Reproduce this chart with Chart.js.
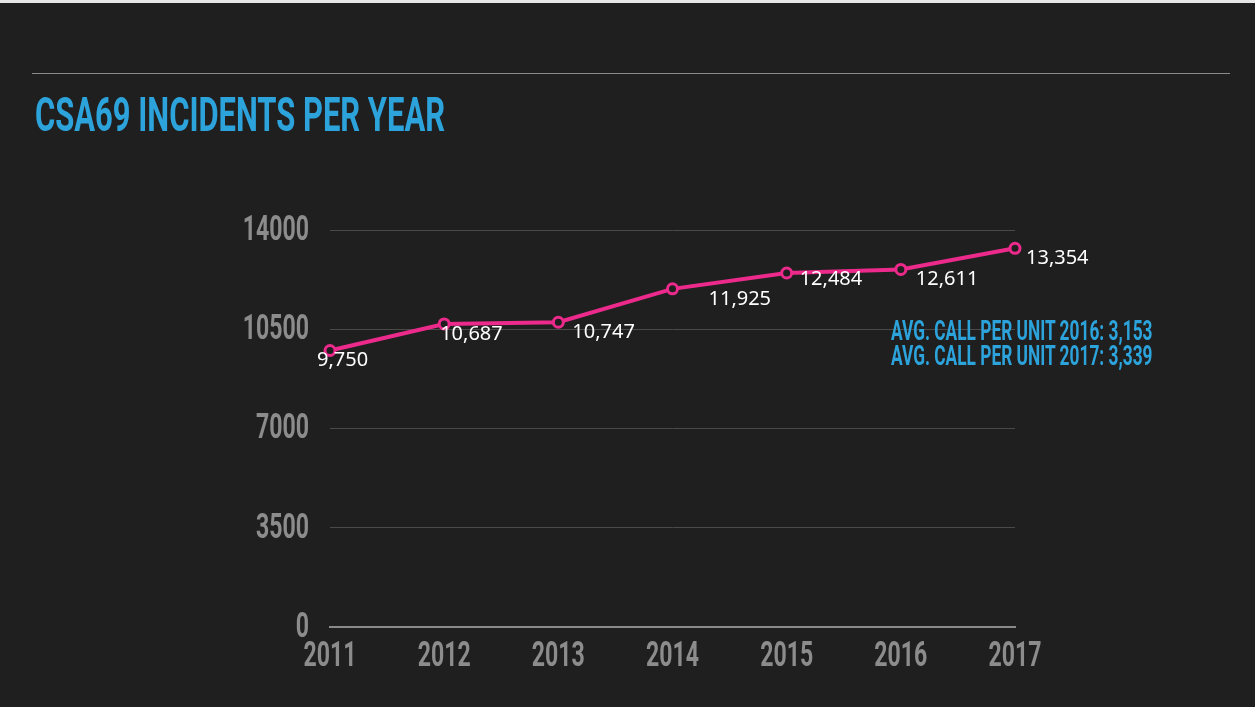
<!DOCTYPE html>
<html>
<head>
<meta charset="utf-8">
<script src="https://cdn.jsdelivr.net/npm/chart.js@4"></script>
<style>
  html, body { margin: 0; padding: 0; background: #1f1f1f; overflow: hidden; }
  body { width: 1255px; height: 707px; position: relative; }
  #topStrip { position: absolute; left: 0; top: 0; width: 1255px; height: 3px; background: #e6e6e6; }
  #rule { position: absolute; left: 32px; top: 73px; width: 1198px; height: 1px; background: #8a8a8a; }
  .cond { position: absolute; white-space: nowrap; font-family: Roboto, 'Liberation Sans', sans-serif; font-weight: 700;
          color: #2da3dc; transform-origin: 0 0; line-height: 1; }
  #title { left: 35px; top: 91px; font-size: 48px; }
  #wrap { position: absolute; left: 0; top: 0; width: 1255px; height: 707px; }
</style>
</head>
<body>
<div id="topStrip"></div>
<div id="rule"></div>
<div id="wrap"><canvas id="chart"></canvas></div>
<div id="title" class="cond">CSA69 INCIDENTS PER YEAR</div>
<div id="note1" class="cond"></div>
<div id="note2" class="cond"></div>
<script>
// Chart data
const years = ['2011', '2012', '2013', '2014', '2015', '2016', '2017'];
const incidents = [9750, 10687, 10747, 11925, 12484, 12611, 13354];
const yTicks = [0, 3500, 7000, 10500, 14000];
const notes = ['AVG. CALL PER UNIT 2016: 3,153', 'AVG. CALL PER UNIT 2017: 3,339'];

const PINK = '#ec2a8c';
const TICK_GREY = '#8c8c8c';
const COND_FONT = "700 35px Roboto, 'Liberation Sans', sans-serif";

// squeeze text horizontally so it fits a target width (mimics condensed face)
const measure = document.createElement('canvas').getContext('2d');
const fitWidth = (el, text, px, width) => {
    el.textContent = text;
    measure.font = `700 ${px}px Roboto, 'Liberation Sans', sans-serif`;
    const w = measure.measureText(text).width;
    el.style.fontSize = px + 'px';
    el.style.transform = `scaleX(${width / w})`;
};

// condensed tick labels + value labels
const labelPlugin = {
    id: 'labels',
    afterDatasetsDraw(chart, args, opts) {
        const { ctx, chartArea, scales } = chart;
        ctx.save();

        // y tick labels
        ctx.font = COND_FONT;
        ctx.fillStyle = TICK_GREY;
        ctx.textBaseline = 'middle';
        ctx.textAlign = 'right';
        scales.y.ticks.forEach(t => {
            const y = scales.y.getPixelForValue(t.value);
            ctx.save();
            ctx.translate(chartArea.left - 21, y + 1);
            ctx.scale(opts.squeeze, 1);
            ctx.fillText(String(t.value), 0, 0);
            ctx.restore();
        });

        // x tick labels
        ctx.textAlign = 'center';
        years.forEach((yr, i) => {
            const x = scales.x.getPixelForValue(i);
            ctx.save();
            ctx.translate(x, chartArea.bottom + 30);
            ctx.scale(opts.squeeze, 1);
            ctx.fillText(yr, 0, 0);
            ctx.restore();
        });

        // value labels
        ctx.font = "20px 'Noto Sans', 'Open Sans', sans-serif";
        ctx.fillStyle = '#ffffff';
        ctx.textAlign = 'left';
        const meta = chart.getDatasetMeta(0);
        meta.data.forEach((pt, i) => {
            const [dx, dy] = opts.offsets[i];
            ctx.fillText(incidents[i].toLocaleString('en-US'), pt.x + dx, pt.y + dy);
        });

        ctx.restore();
    }
};

new Chart(document.getElementById('chart'), {
    type: 'line',
    data: {
        labels: years,
        datasets: [{
            data: incidents,
            borderColor: PINK,
            borderWidth: 4,
            tension: 0,
            pointRadius: 5,
            pointBorderWidth: 3,
            pointBorderColor: PINK,
            pointBackgroundColor: '#1f1f1f',
            clip: false
        }]
    },
    options: {
        responsive: true,
        maintainAspectRatio: false,
        animation: false,
        layout: { padding: { left: 330, right: 240, top: 230, bottom: 80 } },
        plugins: {
            legend: { display: false },
            tooltip: { enabled: false },
            labels: {
                squeeze: 0.66,
                offsets: [[-13, 10], [-4, 10], [14, 10], [36, 10], [13, 6], [15, 10], [11, 10]]
            }
        },
        scales: {
            x: {
                offset: false,
                grid: { display: false, drawTicks: false },
                border: { display: true, color: '#8a8a8a', width: 2 },
                ticks: { display: false },
                afterFit: s => { s.height = 0; }
            },
            y: {
                min: 0,
                max: 14000,
                afterBuildTicks: s => { s.ticks = yTicks.map(v => ({ value: v })); },
                grid: {
                    drawTicks: false,
                    color: c => (c.tick && c.tick.value === 0) ? 'rgba(0,0,0,0)' : '#4a4a4a',
                    lineWidth: 1
                },
                border: { display: false },
                ticks: { display: false },
                afterFit: s => { s.width = 0; }
            }
        }
    },
    plugins: [labelPlugin]
});

// title and side notes
const note1 = document.getElementById('note1');
const note2 = document.getElementById('note2');
note1.style.left = '891px'; note1.style.top = '317px';
note2.style.left = '891px'; note2.style.top = '342px';
fitWidth(document.getElementById('title'), 'CSA69 INCIDENTS PER YEAR', 48, 410);
fitWidth(note1, notes[0], 28, 262);
fitWidth(note2, notes[1], 28, 262);
</script>
</body>
</html>
